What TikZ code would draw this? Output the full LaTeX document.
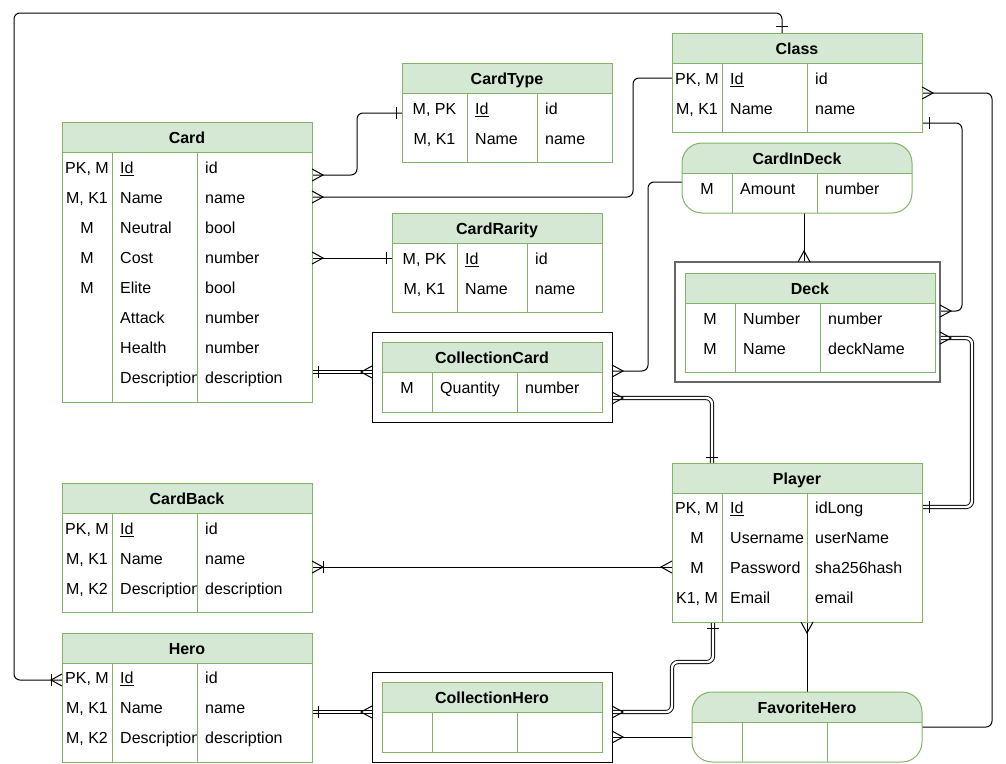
\documentclass[tikz,border=0pt]{standalone}
\usepackage{fontspec}
\setmainfont{Liberation Sans}
\usetikzlibrary{calc}
\definecolor{hdrfill}{HTML}{D5E8D4}
\definecolor{hdrline}{HTML}{82B366}
\tikzset{
  ebox/.style={fill=white, draw=none, inner sep=0pt, outer sep=0pt, anchor=north west},
  cell/.style={inner sep=0pt, text height=11.5pt, text depth=0pt, yshift=-1pt, font=\fontsize{16pt}{19pt}\selectfont},
  etitle/.style={cell, font=\fontsize{16pt}{19pt}\selectfont\bfseries},
  conn/.style={line width=1pt, draw=black, rounded corners=6pt},
  dbl/.style={draw=black, line width=0.9pt, double=white, double distance=2.4pt, rounded corners=6pt},
  erm/.style={line width=1pt, draw=black},
}
% name, x, y, w, h, col1, col2, title, corner style
\newcommand\erbox[9]{%
  \begin{scope}
    \clip (#2,#3) rectangle (#2+#4,#3+30);
    \fill[hdrfill, #9] (#2,#3) rectangle (#2+#4,#3+#5);
  \end{scope}
  \draw[hdrline, line width=1pt, #9] (#2,#3) rectangle (#2+#4,#3+#5);
  \draw[hdrline, line width=1pt] (#2,#3+30) -- (#2+#4,#3+30)
     (#6,#3+30) -- (#6,#3+#5) (#7,#3+30) -- (#7,#3+#5);
  \node[etitle] (#1-t) at ({#2+#4/2},#3+15) {#8};
}
% name, y, x0, c1, c2, t1, t2, t3
\newcommand\erow[8]{%
  \node[cell] (#1-a) at ({(#3+#4)/2},#2) {#6};
  \begin{scope}
    \clip (#4,#2-15) rectangle (#5-0.5,#2+15);
    \node[cell, anchor=west] (#1-b) at (#4+8,#2) {#7};
  \end{scope}
  \node[cell, anchor=west] (#1-c) at (#5+8,#2) {#8};
}
\newcommand\crow[2]{\begin{scope}[shift={#1},rotate=#2]\draw[erm] (0,-6) -- (11,0) -- (0,6);\end{scope}}
\newcommand\onebar[3]{\begin{scope}[shift={#1},rotate=#2]\draw[erm] (#3,-6) -- (#3,6);\end{scope}}
\begin{document}
\begin{tikzpicture}[x=1pt,y=-1pt]
\fill[white] (0,0) rectangle (1006,763);
\useasboundingbox (0,0) rectangle (1006,763);

% ---------- entity nodes (positions) ----------
\node[ebox, minimum width=250pt, minimum height=280pt] (card) at (62,122) {};
\node[ebox, minimum width=210pt, minimum height=99pt] (ctype) at (402,63) {};
\node[ebox, minimum width=210pt, minimum height=99pt] (crar) at (392,213) {};
\node[ebox, minimum width=250pt, minimum height=99pt] (cls) at (672,33) {};
\node[ebox, minimum width=230pt, minimum height=70pt] (cid) at (682,143) {};
\node[ebox, minimum width=265pt, minimum height=120pt] (deckout) at (675,262) {};
\node[ebox, minimum width=240pt, minimum height=90pt] (ccardout) at (372,332) {};
\node[ebox, minimum width=250pt, minimum height=159pt] (player) at (672,463) {};
\node[ebox, minimum width=250pt, minimum height=129pt] (cback) at (62,483) {};
\node[ebox, minimum width=250pt, minimum height=129pt] (hero) at (62,633) {};
\node[ebox, minimum width=240pt, minimum height=90pt] (cheroout) at (372,672) {};
\node[ebox, minimum width=230pt, minimum height=70pt] (fav) at (692,692) {};

% ---------- connection points ----------
\coordinate (clsTop) at ($(cls.north west)+(110,0)$);
\coordinate (clsL) at ($(cls.north west)+(0,45)$);
\coordinate (clsR1) at ($(cls.north east)+(0,60)$);
\coordinate (clsR2) at ($(cls.north east)+(0,90)$);
\coordinate (cardR1) at ($(card.north east)+(0,53)$);
\coordinate (cardR2) at ($(card.north east)+(0,75)$);
\coordinate (cardR3) at ($(card.north east)+(0,136)$);
\coordinate (cardR4) at ($(card.north east)+(0,250)$);
\coordinate (ctypeL) at ($(ctype.north west)+(0,50)$);
\coordinate (crarL) at ($(crar.north west)+(0,45)$);
\coordinate (cidL) at ($(cid.north west)+(0,39)$);
\coordinate (cidB) at ($(cid.south west)+(122,0)$);
\coordinate (deckTop) at ($(deckout.north west)+(129,0)$);
\coordinate (deckR1) at ($(deckout.north east)+(0,49)$);
\coordinate (deckR2) at ($(deckout.north east)+(0,76)$);
\coordinate (ccardL) at ($(ccardout.north west)+(0,40)$);
\coordinate (ccardR1) at ($(ccardout.north east)+(0,39)$);
\coordinate (ccardR2) at ($(ccardout.north east)+(0,66)$);
\coordinate (playerTop) at ($(player.north west)+(40,0)$);
\coordinate (playerL) at ($(player.north west)+(0,104)$);
\coordinate (playerR) at ($(player.north east)+(0,44)$);
\coordinate (playerB1) at ($(player.south west)+(41,0)$);
\coordinate (playerB2) at ($(player.south west)+(135,0)$);
\coordinate (cbackR) at ($(cback.north east)+(0,84)$);
\coordinate (heroL) at ($(hero.north west)+(0,47)$);
\coordinate (heroR) at ($(hero.north east)+(0,79)$);
\coordinate (cheroL) at ($(cheroout.north west)+(0,40)$);
\coordinate (cheroR1) at ($(cheroout.north east)+(0,40)$);
\coordinate (cheroR2) at ($(cheroout.north east)+(0,65)$);
\coordinate (favL) at ($(fav.north west)+(0,45)$);
\coordinate (favTop) at ($(fav.north west)+(115,0)$);
\coordinate (favR) at ($(fav.north east)+(0,35)$);

% ---------- connectors ----------
\draw[conn] (clsTop) |- (14,13) |- (heroL);
\draw[conn] (clsL) -- ++(-39,0) |- (cardR2);
\draw[conn] (ctypeL) -- ++(-45,0) |- (cardR1);
\draw[conn] (crarL) -- (cardR3);
\draw[dbl] (cardR4) -- (ccardL);
\draw[conn] (cidL) -- ++(-34,0) |- (ccardR1);
\draw[conn] (cidB) -- (deckTop);
\draw[conn] (clsR2) -- ++(40,0) |- (deckR1);
\draw[conn] (clsR1) -- ++(70,0) |- (favR);
\draw[dbl] (playerR) -- ++(50,0) |- (deckR2);
\draw[dbl] (ccardR2) -| (playerTop);
\draw[conn] (cbackR) -- (playerL);
\draw[dbl] (heroR) -- (cheroL);
\draw[dbl] (cheroR1) -- ++(60,0) -- ++(0,-50) -| (playerB1);
\draw[conn] (cheroR2) -- (favL);
\draw[conn] (playerB2) -- (favTop);

% ---------- outer frames ----------
\draw[draw=black!60, line width=1.5pt, fill=white] (deckout.north west) rectangle (deckout.south east);
\draw[draw=black, line width=1pt, fill=white] (ccardout.north west) rectangle (ccardout.south east);
\draw[draw=black, line width=1pt, fill=white] (cheroout.north west) rectangle (cheroout.south east);

% ---------- tables ----------
\erbox{cardtab}{62}{122}{250}{280}{112}{197}{Card}{sharp corners}
\erow{card-r1}{167}{62}{112}{197}{PK, M}{\underline{Id}}{id}
\erow{card-r2}{197}{62}{112}{197}{M, K1}{Name}{name}
\erow{card-r3}{227}{62}{112}{197}{M}{Neutral}{bool}
\erow{card-r4}{257}{62}{112}{197}{M}{Cost}{number}
\erow{card-r5}{287}{62}{112}{197}{M}{Elite}{bool}
\erow{card-r6}{317}{62}{112}{197}{}{Attack}{number}
\erow{card-r7}{347}{62}{112}{197}{}{Health}{number}
\erow{card-r8}{377}{62}{112}{197}{}{Description}{description}

\erbox{ctypetab}{402}{63}{210}{99}{467}{537}{CardType}{sharp corners}
\erow{ctype-r1}{108}{402}{467}{537}{M, PK}{\underline{Id}}{id}
\erow{ctype-r2}{138}{402}{467}{537}{M, K1}{Name}{name}

\erbox{crartab}{392}{213}{210}{99}{457}{527}{CardRarity}{sharp corners}
\erow{crar-r1}{258}{392}{457}{527}{M, PK}{\underline{Id}}{id}
\erow{crar-r2}{288}{392}{457}{527}{M, K1}{Name}{name}

\erbox{clstab}{672}{33}{250}{99}{722}{807}{Class}{sharp corners}
\erow{cls-r1}{78}{672}{722}{807}{PK, M}{\underline{Id}}{id}
\erow{cls-r2}{108}{672}{722}{807}{M, K1}{Name}{name}

\erbox{cidtab}{682}{143}{230}{70}{732}{817}{CardInDeck}{rounded corners=20pt}
\erow{cid-r1}{188}{682}{732}{817}{M}{Amount}{number}

\erbox{decktab}{685}{273}{250}{99}{735}{820}{Deck}{sharp corners}
\erow{deck-r1}{318}{685}{735}{820}{M}{Number}{number}
\erow{deck-r2}{348}{685}{735}{820}{M}{Name}{deckName}

\erbox{ccardtab}{382}{342}{220}{70}{432}{517}{CollectionCard}{sharp corners}
\erow{ccard-r1}{387}{382}{432}{517}{M}{Quantity}{number}

\erbox{playertab}{672}{463}{250}{159}{722}{807}{Player}{sharp corners}
\erow{player-r1}{507}{672}{722}{807}{PK, M}{\underline{Id}}{idLong}
\erow{player-r2}{537}{672}{722}{807}{M}{Username}{userName}
\erow{player-r3}{567}{672}{722}{807}{M}{Password}{sha256hash}
\erow{player-r4}{597}{672}{722}{807}{K1, M}{Email}{email}

\erbox{cbacktab}{62}{483}{250}{129}{112}{197}{CardBack}{sharp corners}
\erow{cback-r1}{528}{62}{112}{197}{PK, M}{\underline{Id}}{id}
\erow{cback-r2}{558}{62}{112}{197}{M, K1}{Name}{name}
\erow{cback-r3}{588}{62}{112}{197}{M, K2}{Description}{description}

\erbox{herotab}{62}{633}{250}{129}{112}{197}{Hero}{sharp corners}
\erow{hero-r1}{677}{62}{112}{197}{PK, M}{\underline{Id}}{id}
\erow{hero-r2}{707}{62}{112}{197}{M, K1}{Name}{name}
\erow{hero-r3}{737}{62}{112}{197}{M, K2}{Description}{description}

\erbox{cherotab}{382}{682}{220}{70}{432}{517}{CollectionHero}{sharp corners}

\erbox{favtab}{692}{692}{230}{70}{742}{827}{FavoriteHero}{rounded corners=20pt}

% ---------- markers ----------
\onebar{(clsTop)}{90}{7}
\crow{(heroL)}{180}\onebar{(heroL)}{180}{11}
\crow{(cardR2)}{0}
\onebar{(ctypeL)}{180}{6}\crow{(cardR1)}{0}
\onebar{(crarL)}{180}{6}\crow{(cardR3)}{0}
\onebar{(cardR4)}{0}{6}\crow{(ccardL)}{180}
\crow{(ccardR1)}{0}
\crow{(deckTop)}{90}
\onebar{(clsR2)}{0}{7}\crow{(deckR1)}{0}
\crow{(clsR1)}{0}
\onebar{(playerR)}{0}{7}\crow{(deckR2)}{0}
\crow{(ccardR2)}{0}\onebar{(playerTop)}{90}{6}
\crow{(cbackR)}{0}\onebar{(cbackR)}{0}{11}\crow{(playerL)}{180}
\onebar{(heroR)}{0}{6}\crow{(cheroL)}{180}
\crow{(cheroR1)}{0}\onebar{(playerB1)}{-90}{6}
\crow{(cheroR2)}{0}
\crow{(playerB2)}{-90}
\end{tikzpicture}
\end{document}
